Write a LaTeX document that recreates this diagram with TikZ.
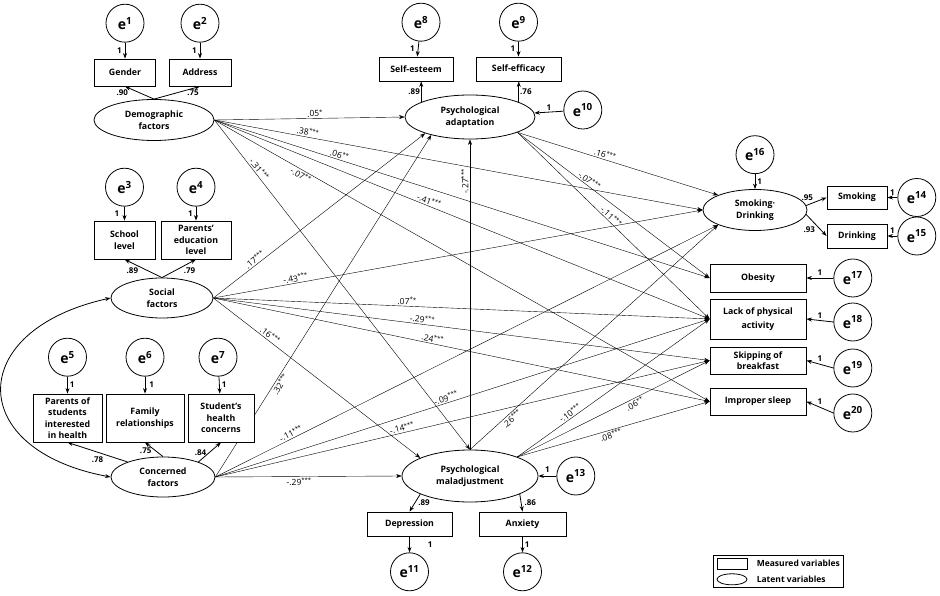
\documentclass[tikz,border=0pt]{standalone}
\usepackage{fontspec}
\setmainfont{Open Sans}
\usepackage{tikz}
\usetikzlibrary{shapes.geometric}
\usetikzlibrary{positioning, fit, arrows.meta}
\usetikzlibrary{backgrounds}

\begin{document}
\begin{tikzpicture}[x=1pt, y=-1pt, line width=0.8pt,
  >={Stealth[length=5.5pt, width=4pt]},
  obs/.style={draw, fill=white, align=center, inner sep=0pt,
    font=\fontsize{8.8}{11.5}\selectfont\bfseries},
  lat/.style={draw, ellipse, fill=white, align=center, inner sep=0pt,
    font=\fontsize{8.8}{11.5}\selectfont\bfseries},
  err/.style={draw, circle, fill=white, minimum size=38pt, inner sep=0pt,
    font=\fontsize{14}{14}\selectfont\bfseries},
  wt/.style={font=\fontsize{8}{8}\selectfont\bfseries, inner sep=1pt},
  pc/.style={font=\fontsize{8.5}{8.5}\selectfont, sloped, inner sep=1.2pt}]
\useasboundingbox (0,0) rectangle (940,596);

% latent variables
\node[lat, minimum width=120pt, minimum height=41pt] (demo) at (154,120) {Demographic\\factors};
\node[lat, minimum width=102pt, minimum height=40pt] (social) at (162,298) {Social\\factors};
\node[lat, minimum width=104pt, minimum height=40pt] (concern) at (163,477) {Concerned\\factors};
\node[lat, minimum width=130pt, minimum height=44pt] (adapt) at (470,117) {Psychological\\adaptation};
\node[lat, minimum width=136pt, minimum height=52pt] (malad) at (470,476) {Psychological\\maladjustment};
\node[lat, minimum width=104pt, minimum height=41pt] (smokdrink) at (755,210) {Smoking·\\Drinking};

% measured variables
\node[obs, minimum width=61pt, minimum height=27pt] (gender) at (125,72.5) {Gender};
\node[obs, minimum width=62pt, minimum height=27pt] (address) at (200,72.5) {Address};
\node[obs, minimum width=61pt, minimum height=38pt] (school) at (124.5,240) {School\\level};
\node[obs, minimum width=70pt, minimum height=38pt] (parentedu) at (196,240) {Parents’\\education\\level};
\node[obs, minimum width=69pt, minimum height=48pt] (parentint) at (67.5,418) {Parents of\\students\\interested\\in health};
\node[obs, minimum width=78pt, minimum height=48pt] (family) at (145,418) {Family\\relationships};
\node[obs, minimum width=66pt, minimum height=48pt] (studconc) at (221,418) {Student’s\\health\\concerns};
\node[obs, minimum width=74pt, minimum height=24pt] (esteem) at (416,69) {Self-esteem};
\node[obs, minimum width=85pt, minimum height=24pt] (efficacy) at (518.5,69) {Self-efficacy};
\node[obs, minimum width=60pt, minimum height=23pt] (smoking) at (857,197.5) {Smoking};
\node[obs, minimum width=60pt, minimum height=24pt] (drinking) at (857,236) {Drinking};
\node[obs, minimum width=96pt, minimum height=28pt] (obesity) at (758,278) {Obesity};
\node[obs, minimum width=96pt, minimum height=40pt, font=\fontsize{8.8}{13.5}\selectfont\bfseries] (lackpa) at (758,319) {Lack of physical\\activity};
\node[obs, minimum width=96pt, minimum height=27pt] (skipbf) at (758,360.5) {Skipping of\\breakfast};
\node[obs, minimum width=96pt, minimum height=27pt] (sleep) at (758,401.5) {Improper sleep};
\node[obs, minimum width=85pt, minimum height=24pt] (depress) at (409.5,524) {Depression};
\node[obs, minimum width=87pt, minimum height=24pt] (anxiety) at (522.5,524) {Anxiety};

% error terms
\node[err] (e1) [above=16pt of gender] {e\textsuperscript{1}};
\node[err] (e2) [above=16pt of address] {e\textsuperscript{2}};
\node[err] (e3) [above=14pt of school] {e\textsuperscript{3}};
\node[err] (e4) [above=14pt of parentedu] {e\textsuperscript{4}};
\node[err] (e5) [above=17pt of parentint] {e\textsuperscript{5}};
\node[err] (e6) [above=17pt of family] {e\textsuperscript{6}};
\node[err] (e7) [above=17pt of studconc, xshift=-3pt] {e\textsuperscript{7}};
\node[err] (e8) [above=15pt of esteem, xshift=5pt] {e\textsuperscript{8}};
\node[err] (e9) [above=15pt of efficacy] {e\textsuperscript{9}};
\node[err] (e10) [right=28pt of adapt, yshift=7pt] {e\textsuperscript{10}};
\node[err] (e11) [below=16pt of depress] {e\textsuperscript{11}};
\node[err] (e12) [below=16pt of anxiety] {e\textsuperscript{12}};
\node[err] (e13) [right=18pt of malad] {e\textsuperscript{13}};
\node[err] (e14) [right=10pt of smoking] {e\textsuperscript{14}};
\node[err] (e15) [right=10pt of drinking] {e\textsuperscript{15}};
\node[err] (e16) [above=15pt of smokdrink] {e\textsuperscript{16}};
\node[err] (e17) [right=27pt of obesity] {e\textsuperscript{17}};
\node[err] (e18) [right=27pt of lackpa, yshift=-3pt] {e\textsuperscript{18}};
\node[err] (e19) [right=27pt of skipbf, yshift=-7.5pt] {e\textsuperscript{19}};
\node[err] (e20) [right=27pt of sleep, yshift=-11.5pt] {e\textsuperscript{20}};

% error paths
\draw[->] (e1) -- node[wt, left=2pt] {1} (gender);
\draw[->] (e2) -- node[wt, left=2pt] {1} (address);
\draw[->] (e3) -- node[wt, left=4pt] {1} (school);
\draw[->] (e4) -- node[wt, left=2pt] {1} (parentedu);
\draw[->] (e5) -- node[wt, right=1pt] {1} (parentint);
\draw[->] (e6) -- node[wt, right=3pt] {1} (family);
\draw[->] (e7) -- node[wt, right=1pt] {1} (studconc);
\draw[->] (e8) -- node[wt, left=2pt] {1} (esteem);
\draw[->] (e9) -- node[wt, left=2pt] {1} (efficacy);
\draw[->] (e10) -- node[wt, above] {1} (adapt);
\draw[->] (depress) -- node[wt, right=17pt] {1} (e11);
\draw[->] (anxiety) -- node[wt, right=1pt] {1} (e12);
\draw[->] (e13) -- node[wt, above=2pt] {1} (malad);
\draw[->] (e14.west) -- node[wt, above=1pt] {1} (smoking.east);
\draw[->] (e15.west) -- node[wt, above=1pt] {1} (drinking.east);
\draw[->] (e16) -- node[wt, right=1pt] {1} (smokdrink);
\draw[->] (e17.west) -- node[wt, above=1pt] {1} (obesity.east);
\draw[->] (e18.west) -- node[wt, above=1pt] {1} (lackpa.east);
\draw[->] (e19.west) -- node[wt, above=1pt] {1} (skipbf.east);
\draw[->] (e20.west) -- node[wt, above=1pt] {1} (sleep.east);

% factor loadings
\draw[->] (demo.north) -- node[wt, pos=.85, below left] {.90} (gender.south);
\draw[->] (demo.north) -- node[wt, pos=.85, below] {.75} (address.south);
\draw[->] (social.north) -- node[wt, pos=.6, below left] {.89} (school.south);
\draw[->] (social.north) -- node[wt, pos=.6, below right] {.79} (parentedu.south);
\draw[->] (concern.157) -- node[wt, pos=.5, below=3pt] {.78} (parentint.south);
\draw[->] (concern.north) -- node[wt, pos=.4, left=3pt] {.75} (family.south);
\draw[->] (concern.23) -- node[wt, pos=.5, left=2pt] {.84} (studconc.south);
\draw[->] (adapt.163) -- node[wt, left] {.89} (adapt.163 |- esteem.south);
\draw[->] (adapt.17) -- node[wt, right] {.76} (adapt.17 |- efficacy.south);
\draw[->] (malad.200) -- node[wt, right=2pt] {.89} (depress.north);
\draw[->] (malad.-20) -- node[wt, right=2pt] {.86} (anxiety.north);
\draw[->] (smokdrink.5) -- node[wt, pos=.4, above left] {.95} (smoking.west);
\draw[->] (smokdrink.-5) -- node[wt, pos=.5, below left] {.93} (drinking.west);

% covariance
\draw[<->] (social.west) .. controls (-35,330) and (-35,450) .. (concern.west);

% structural paths
\begin{scope}[on background layer]
\path[->] (demo.east) edge node[pc, above, pos=.53] {.05\textsuperscript{*}} (adapt.west);
\path[->] (demo.east) edge node[pc, above, pos=.19] {.38\textsuperscript{***}} (smokdrink.west);
\path[->] (demo.east) edge node[pc, above, pos=.25] {.06\textsuperscript{**}} (obesity.west);
\path[->] (demo.east) edge node[pc, above, pos=.43] {-.41\textsuperscript{***}} (lackpa.west);
\path[->] (demo.east) edge node[pc, below, pos=.18] {-.07\textsuperscript{**}} (sleep.west);
\path[->] (demo.east) edge node[pc, above, pos=.16] {-.31\textsuperscript{***}} (malad.north);
\path[->] (social.east) edge node[pc, above, pos=.21] {.17\textsuperscript{***}} (adapt.200);
\path[->] (social.east) edge node[pc, above, pos=.17] {-.43\textsuperscript{***}} (smokdrink.west);
\path[->] (social.east) edge node[pc, above, pos=.39] {.07\textsuperscript{**}} (lackpa.west);
\path[->] (social.east) edge node[pc, above, pos=.42] {-.29\textsuperscript{***}} (skipbf.west);
\path[->] (social.east) edge node[pc, above, pos=.44] {.24\textsuperscript{***}} (sleep.west);
\path[->] (social.east) edge node[pc, above, pos=.26] {.16\textsuperscript{***}} (malad.160);
\path[->] (concern.east) edge node[pc, below, pos=.28] {.32\textsuperscript{***}} (adapt.205);
\path[->] (concern.east) edge node[pc, above, pos=.155] {-.11\textsuperscript{***}} (smokdrink.202);
\path[->] (concern.east) edge node[pc, above, pos=.47] {-.09\textsuperscript{***}} (lackpa.west);
\path[->] (concern.east) edge node[pc, above, pos=.38] {-.14\textsuperscript{***}} (skipbf.west);
\path[->] (concern.east) edge node[pc, below, pos=.45] {-.29\textsuperscript{***}} (malad.west);
\path[->] (adapt.-18) edge node[pc, above, pos=.43] {.16\textsuperscript{***}} (smokdrink.158);
\path[->] (adapt.-18) edge node[pc, above, pos=.36] {-.07\textsuperscript{***}} (obesity.west);
\path[->] (adapt.-18) edge node[pc, above, pos=.47] {-.11\textsuperscript{***}} (lackpa.west);
\path[->] (malad.north) edge node[pc, above, pos=.865] {-.27\textsuperscript{***}} (adapt.south);
\path[->] (malad.north) edge node[pc, below, pos=.155] {.26\textsuperscript{***}} (smokdrink.202);
\path[->] (malad.22) edge node[pc, above, pos=.29] {-.10\textsuperscript{***}} (lackpa.west);
\path[->] (malad.22) edge node[pc, below, pos=.6] {.06\textsuperscript{**}} (skipbf.west);
\path[->] (malad.22) edge node[pc, below, pos=.48] {.08\textsuperscript{***}} (sleep.west);
\end{scope}

% legend
\node[draw, minimum width=30pt, minimum height=11pt, inner sep=0pt] (legobs) at (732,563.5) {};
\node[draw, ellipse, minimum width=30pt, minimum height=11pt, inner sep=0pt] (leglat) [below=4pt of legobs] {};
\node[font=\fontsize{8.5}{8.5}\selectfont\bfseries, inner sep=0pt, right=9pt of legobs] (legobstxt) {Measured variables};
\node[font=\fontsize{8.5}{8.5}\selectfont\bfseries, inner sep=0pt, right=9pt of leglat] (leglattxt) {Latent variables};
\node[draw, line width=0.6pt, inner xsep=3.5pt, inner ysep=2.5pt, fit=(legobs)(leglat)(legobstxt)(leglattxt)] (legend) {};
\end{tikzpicture}
\end{document}
